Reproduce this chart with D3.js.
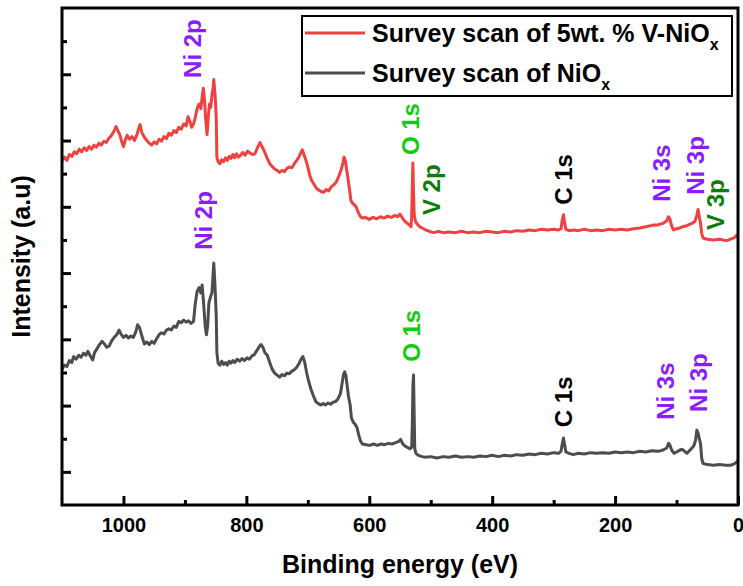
<!DOCTYPE html>
<html>
<head>
<meta charset="utf-8">
<script src="https://cdnjs.cloudflare.com/ajax/libs/d3/7.8.5/d3.min.js"></script>
<style>
  body { margin: 0; background: #fff; }
  text { font-family: "Liberation Sans", Arial, sans-serif; font-weight: bold; }
</style>
</head>
<body>
<script>
const w = 743;
const h = 586;
const margin = {top: 8, right: 5, bottom: 81, left: 62};

// survey scan of 5wt.% V-NiOx : [binding energy (eV), intensity (a.u.)]
const vnioScan = [
  [1100,10.38],[1096,10.50],[1092,10.40],[1088,10.58],[1084,10.52],[1080,10.66],[1076,10.60],[1072,10.74],
  [1068,10.66],[1064,10.78],[1060,10.70],[1056,10.82],[1052,10.74],[1048,10.86],[1044,10.80],[1040,10.92],
  [1036,10.86],[1032,10.98],[1028,10.94],[1024,11.06],[1020,11.14],[1016,11.26],[1012,11.42],[1009,11.30],
  [1006,11.18],[1003,10.98],[1000,10.82],[997,11.02],[994,11.16],[990,11.04],[986,11.12],[982,11.00],
  [978,11.18],[975,11.38],[973,11.48],[970,11.24],[966,11.10],[962,11.00],[958,10.92],[954,10.86],
  [950,10.96],[946,10.90],[942,11.04],[938,10.98],[934,11.12],[930,11.06],[926,11.22],[922,11.16],
  [918,11.30],[914,11.24],[910,11.40],[906,11.34],[902,11.50],[898,11.44],[895,11.72],[892,11.58],
  [889,11.40],[886,11.50],[883,11.70],[880,11.98],[877,12.10],[874,11.96],[872,12.30],[870,12.58],
  [868,12.20],[866,11.60],[864,11.18],[862,11.70],[860,12.10],[858,12.00],[856,12.36],[854,12.60],
  [853,12.84],[851,12.40],[849,11.70],[848,10.50],[846,10.36],[843,10.30],[840,10.42],[837,10.36],
  [834,10.48],[831,10.40],[828,10.52],[825,10.46],[822,10.58],[819,10.48],[816,10.60],[813,10.50],
  [810,10.54],[806,10.64],[802,10.56],[798,10.68],[794,10.62],[790,10.58],[786,10.60],[782,10.78],
  [778,10.94],[774,10.80],[770,10.64],[766,10.46],[762,10.30],[758,10.22],[754,10.14],[750,10.10],
  [746,10.04],[742,10.10],[738,10.06],[734,10.16],[730,10.20],[726,10.18],[722,10.30],[718,10.40],
  [714,10.52],[711,10.64],[709,10.72],[706,10.56],[703,10.40],[700,10.20],[697,9.96],[694,9.80],
  [690,9.68],[686,9.56],[682,9.50],[678,9.46],[674,9.44],[670,9.52],[666,9.48],[662,9.60],
  [658,9.66],[654,9.74],[650,9.90],[646,10.10],[643,10.32],[641,10.50],[639,10.40],[637,10.14],
  [635,9.90],[632,9.50],[630,9.20],[627,9.10],[624,9.06],[621,8.98],[618,8.84],[615,8.72],
  [612,8.66],[606,8.68],[600,8.62],[594,8.68],[588,8.64],[582,8.70],[576,8.66],[570,8.72],
  [564,8.68],[558,8.74],[554,8.70],[550,8.78],[546,8.66],[542,8.56],[538,8.50],[534,8.44],
  [532,8.40],[531,8.70],[530,9.60],[529,10.32],[528,9.40],[527,8.80],[525,8.56],[522,8.48],
  [518,8.40],[514,8.36],[508,8.30],[502,8.26],[495,8.22],[488,8.26],[480,8.22],[470,8.24],
  [460,8.22],[450,8.26],[440,8.22],[430,8.24],[420,8.22],[410,8.26],[400,8.24],[390,8.22],
  [380,8.26],[370,8.24],[360,8.28],[350,8.26],[340,8.30],[330,8.28],[320,8.32],[310,8.30],
  [300,8.32],[292,8.30],[288,8.34],[286,8.60],[284,8.76],[282,8.50],[280,8.32],[275,8.28],
  [268,8.30],[260,8.28],[250,8.32],[240,8.28],[230,8.30],[220,8.28],[210,8.32],[200,8.30],
  [190,8.32],[180,8.30],[170,8.34],[160,8.36],[150,8.40],[140,8.44],[130,8.46],[122,8.50],
  [116,8.58],[113,8.70],[111,8.64],[108,8.42],[105,8.30],[100,8.34],[95,8.36],[90,8.40],
  [85,8.42],[80,8.46],[75,8.50],[70,8.56],[67,8.74],[65,8.92],[63,8.70],[61,8.50],
  [59,8.20],[57,8.06],[50,8.02],[40,8.00],[30,8.02],[20,7.98],[15,8.00],[10,8.04],
  [5,8.08],[1,8.16]
];

// survey scan of NiOx
const nioScan = [
  [1100,4.10],[1096,4.22],[1092,4.18],[1088,4.36],[1084,4.30],[1081,4.48],[1077,4.40],[1073,4.52],
  [1069,4.46],[1065,4.58],[1061,4.52],[1058,4.64],[1054,4.50],[1050,4.38],[1047,4.60],[1043,4.72],
  [1039,4.84],[1035,4.94],[1031,4.86],[1027,4.76],[1023,4.80],[1019,4.96],[1015,5.06],[1011,5.14],
  [1007,5.28],[1004,5.16],[1000,5.06],[996,5.12],[992,5.04],[988,5.10],[984,5.06],[980,5.22],
  [977,5.44],[974,5.36],[970,5.10],[966,4.86],[962,4.92],[958,4.84],[954,4.94],[950,4.88],
  [946,5.02],[942,5.14],[938,5.20],[934,5.16],[930,5.28],[926,5.32],[922,5.28],[918,5.40],
  [914,5.36],[910,5.54],[906,5.50],[902,5.58],[898,5.52],[894,5.56],[890,5.48],[886,5.54],
  [883,6.10],[880,6.46],[877,6.56],[874,6.40],[872,6.64],[870,6.20],[867,5.40],[865,5.14],
  [863,5.40],[861,6.10],[858,6.30],[856,6.40],[854,7.00],[853,7.30],[851,6.60],[849,5.70],
  [848,4.60],[846,4.28],[843,4.22],[840,4.34],[837,4.24],[834,4.30],[831,4.22],[828,4.34],
  [825,4.28],[822,4.36],[819,4.30],[815,4.40],[811,4.34],[807,4.42],[803,4.36],[799,4.44],
  [795,4.40],[791,4.50],[787,4.54],[783,4.66],[779,4.78],[776,4.84],[773,4.76],[770,4.60],
  [766,4.52],[762,4.30],[758,4.10],[754,3.98],[750,3.92],[746,3.86],[742,3.94],[738,3.90],
  [734,3.98],[730,3.96],[726,4.04],[722,4.08],[718,4.16],[714,4.28],[711,4.40],[708,4.48],
  [705,4.30],[702,4.00],[699,3.76],[695,3.50],[691,3.30],[687,3.12],[683,3.06],[679,3.02],
  [675,3.06],[671,3.02],[667,3.08],[663,3.04],[659,3.10],[655,3.12],[651,3.20],[647,3.36],
  [644,3.70],[642,3.94],[640,4.02],[638,3.90],[636,3.60],[634,3.30],[631,3.00],[629,2.62],
  [626,2.50],[623,2.44],[620,2.34],[617,2.10],[614,1.92],[611,1.84],[605,1.82],[599,1.80],
  [593,1.84],[587,1.80],[581,1.84],[575,1.82],[569,1.86],[563,1.84],[557,1.88],[552,1.92],
  [549,1.98],[546,1.86],[542,1.78],[538,1.74],[534,1.70],[531,1.74],[530,2.40],[529,3.60],
  [528,3.92],[527,2.80],[526,1.70],[524,1.56],[520,1.50],[514,1.46],[508,1.44],[500,1.46],
  [490,1.42],[480,1.46],[470,1.44],[460,1.48],[450,1.44],[440,1.46],[430,1.44],[420,1.48],
  [410,1.46],[400,1.50],[390,1.46],[380,1.50],[370,1.48],[360,1.52],[350,1.50],[340,1.54],
  [330,1.52],[320,1.56],[310,1.54],[300,1.58],[292,1.56],[288,1.62],[286,1.84],[284,2.02],
  [282,1.80],[280,1.60],[275,1.56],[268,1.52],[260,1.56],[250,1.54],[240,1.58],[230,1.56],
  [220,1.58],[210,1.56],[200,1.60],[190,1.58],[180,1.60],[170,1.58],[160,1.62],[150,1.60],
  [140,1.64],[130,1.62],[122,1.66],[116,1.72],[113,1.86],[111,1.82],[108,1.66],[104,1.56],
  [100,1.60],[96,1.64],[92,1.68],[89,1.66],[86,1.60],[83,1.56],[80,1.62],[76,1.70],
  [72,1.78],[69,1.96],[67,2.26],[65,2.18],[63,2.00],[61,1.86],[59,1.40],[57,1.26],
  [50,1.22],[40,1.20],[30,1.22],[20,1.20],[12,1.20],[6,1.24],[1,1.32]
];

const xMajorTicks = [1000, 800, 600, 400, 200, 0];
const xMinorTicks = [900, 700, 500, 300, 100];
const yMajorTicks = [1, 3, 5, 7, 9, 11, 13];
const yMinorTicks = [2, 4, 6, 8, 10, 12, 14];

// peak labels: [text, energy, intensity at the foot of the label, colour]
const peakLabels = [
  ["Ni 2p", 874, 12.89, "#8b1cff"],
  ["O 1s", 519, 10.56, "#11cc11"],
  ["V 2p", 485, 8.75, "#0b7d0b"],
  ["C 1s", 270, 9.06, "#000"],
  ["Ni 3s", 111, 9.15, "#8b1cff"],
  ["Ni 3p", 55, 9.36, "#8b1cff"],
  ["V 3p", 23, 8.30, "#0b7d0b"],
  ["Ni 2p", 856, 7.70, "#8b1cff"],
  ["O 1s", 517, 4.32, "#11cc11"],
  ["C 1s", 270, 2.35, "#000"],
  ["Ni 3s", 104, 2.57, "#8b1cff"],
  ["Ni 3p", 50, 2.81, "#8b1cff"]
];

const seriesNames = ["Survey scan of 5wt. % V-NiO", "Survey scan of NiO"];
const seriesColors = ["#f04141", "#4d4d4d"];

const svg = d3.select("body")
  .append("svg")
  .attr("width", w)
  .attr("height", h);

const xScale = d3.scaleLinear()
  .domain([1100, 0])
  .range([margin.left, w - margin.right]);

const yScale = d3.scaleLinear()
  .domain([0, 15])
  .range([h - margin.bottom, margin.top]);

const line = d3.line()
  .x(d => xScale(d[0]))
  .y(d => yScale(d[1]));

svg.selectAll("path.scan")
  .data([vnioScan, nioScan])
  .enter()
  .append("path")
  .attr("class", "scan")
  .attr("d", line)
  .attr("fill", "none")
  .attr("stroke", (d, i) => seriesColors[i])
  .attr("stroke-width", 3)
  .attr("stroke-linejoin", "round");

// ticks point into the plot
const xAxis = d3.axisBottom(xScale)
  .tickValues(xMajorTicks)
  .tickSize(-9)
  .tickPadding(13)
  .tickFormat(d3.format("d"));

const xMinor = d3.axisBottom(xScale)
  .tickValues(xMinorTicks)
  .tickSize(-5)
  .tickFormat("");

const yAxis = d3.axisLeft(yScale)
  .tickValues(yMajorTicks)
  .tickSize(-9)
  .tickFormat("");

const yMinor = d3.axisLeft(yScale)
  .tickValues(yMinorTicks)
  .tickSize(-5)
  .tickFormat("");

[xAxis, xMinor].forEach(a => {
  svg.append("g")
    .attr("class", "x-axis")
    .attr("transform", "translate(0," + (h - margin.bottom) + ")")
    .call(a);
});

[yAxis, yMinor].forEach(a => {
  svg.append("g")
    .attr("class", "y-axis")
    .attr("transform", "translate(" + margin.left + ",0)")
    .call(a);
});

svg.selectAll(".domain").remove();
svg.selectAll(".tick line")
  .attr("stroke", "#000")
  .attr("stroke-width", 3);
svg.selectAll(".x-axis text")
  .attr("fill", "#000")
  .style("font-size", "20px");

svg.append("rect")
  .attr("x", margin.left)
  .attr("y", margin.top)
  .attr("width", w - margin.left - margin.right)
  .attr("height", h - margin.top - margin.bottom)
  .attr("fill", "none")
  .attr("stroke", "#000")
  .attr("stroke-width", 3);

svg.append("text")
  .attr("x", (margin.left + w - margin.right) / 2)
  .attr("y", 573)
  .attr("text-anchor", "middle")
  .style("font-size", "25px")
  .text("Binding energy (eV)");

svg.append("text")
  .attr("transform", "translate(30," + yScale(7.5) + ") rotate(-90)")
  .attr("text-anchor", "middle")
  .style("font-size", "25px")
  .text("Intensity (a.u)");

svg.selectAll("text.peak")
  .data(peakLabels)
  .enter()
  .append("text")
  .attr("class", "peak")
  .attr("transform", d => "translate(" + xScale(d[1]) + "," + yScale(d[2]) + ") rotate(-90)")
  .attr("fill", d => d[3])
  .style("font-size", "24px")
  .text(d => d[0]);

// legend
const legend = svg.append("g").attr("id", "legend");

legend.append("rect")
  .attr("x", 302)
  .attr("y", 16)
  .attr("width", 430)
  .attr("height", 80)
  .attr("fill", "#fff")
  .attr("stroke", "#000")
  .attr("stroke-width", 2);

seriesNames.forEach((name, i) => {
  const ly = 33 + i * 40;
  legend.append("line")
    .attr("x1", 305)
    .attr("x2", 365)
    .attr("y1", ly)
    .attr("y2", ly)
    .attr("stroke", seriesColors[i])
    .attr("stroke-width", 3);
  const t = legend.append("text")
    .attr("x", 372)
    .attr("y", ly + 9)
    .attr("fill", "#000")
    .style("font-size", "25px")
    .text(name);
  t.append("tspan")
    .attr("dy", 8)
    .style("font-size", "16px")
    .text("x");
});
</script>
</body>
</html>
